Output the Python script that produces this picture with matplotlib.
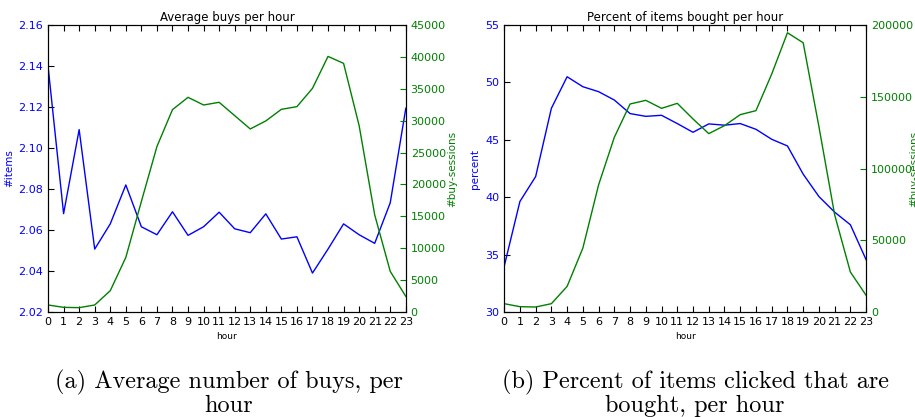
import matplotlib
matplotlib.use("Agg")
import matplotlib.pyplot as plt

hours = list(range(24))

# (a) average items per buy and number of buy sessions, by hour
avg_items = [2.140, 2.068, 2.109, 2.0507, 2.063, 2.082, 2.0616, 2.0577,
             2.0689, 2.0574, 2.0616, 2.0687, 2.0606, 2.0587, 2.0679, 2.0556,
             2.0567, 2.039, 2.0507, 2.063, 2.0577, 2.0535, 2.0733, 2.1194]
buy_sessions_a = [1100, 730, 680, 1100, 3340, 8560, 17330, 25950,
                  31740, 33670, 32470, 32890, 30800, 28710, 29970, 31790,
                  32210, 35080, 40090, 39000, 29230, 15240, 6370, 2450]

# (b) percent of clicked items bought and number of buy sessions, by hour
pct_bought = [33.97, 39.63, 41.8, 47.75, 50.5, 49.63, 49.2, 48.47,
              47.29, 47.05, 47.14, 46.42, 45.66, 46.39, 46.28, 46.42,
              45.92, 45.05, 44.47, 42.01, 40.06, 38.7, 37.6, 34.55]
buy_sessions_b = [5800, 3710, 3480, 5800, 17860, 44540, 88620, 121800,
                  145000, 147550, 141980, 145460, 134560, 124350, 129920, 137580,
                  140360, 165880, 194650, 187690, 129220, 67740, 27840, 11600]

plt.rcParams.update({
    "xtick.direction": "in",
    "ytick.direction": "in",
    "xtick.top": True,
    "xtick.major.size": 4,
    "ytick.major.size": 4,
    "font.size": 8,
})

fig = plt.figure(figsize=(9.15, 4.17), dpi=100)
fig.patch.set_facecolor("white")

panels = [
    (0.0525, 0.391, avg_items, (2.02, 2.16), [2.02 + 0.02 * i for i in range(8)],
     "%.2f", "#items", -0.095, "Average buys per hour",
     buy_sessions_a, 45000, range(0, 45001, 5000), 1.117),
    (0.551, 0.3956, pct_bought, (30, 55), range(30, 56, 5),
     "%d", "percent", -0.066, "Percent of items bought per hour",
     buy_sessions_b, 200000, range(0, 200001, 50000), 1.118),
]

for (left, width, vals, ylim, yticks, fmt, ylab, ylab_x, title,
     sess, smax, sticks, slab_x) in panels:
    ax = fig.add_axes([left, 0.2518, width, 0.688])
    ax.plot(hours, vals, color="b", lw=1.0)
    ax.set_xlim(0, 23)
    ax.set_ylim(*ylim)
    ax.set_xticks(hours)
    ax.set_yticks(list(yticks))
    ax.set_yticklabels([fmt % v for v in yticks], color="b")
    ax.set_ylabel(ylab, color="b", fontsize=7.5)
    ax.yaxis.set_label_coords(ylab_x, 0.5)
    ax.set_xlabel("hour", fontsize=6.5)
    ax.set_title(title, fontsize=8.5, pad=3)

    ax2 = ax.twinx()
    ax2.plot(hours, sess, color="g", lw=1.0)
    ax2.set_xlim(0, 23)
    ax2.set_ylim(0, smax)
    ax2.set_yticks(list(sticks))
    ax2.tick_params(axis="y", colors="g", direction="in")
    ax2.spines["right"].set_color("black")
    ax2.set_ylabel("#buy-sessions", color="g", fontsize=7.5)
    ax2.yaxis.set_label_coords(slab_x, 0.5)

cap_kw = dict(family="cmr10", fontsize=17.5, ha="center", va="top", linespacing=0.98)
fig.text(0.250, 0.113, "(a) Average number of buys, per\nhour", **cap_kw)
fig.text(0.7596, 0.113, "(b) Percent of items clicked that are\nbought, per hour", **cap_kw)

fig.savefig("out.png", dpi=100, facecolor="white")
